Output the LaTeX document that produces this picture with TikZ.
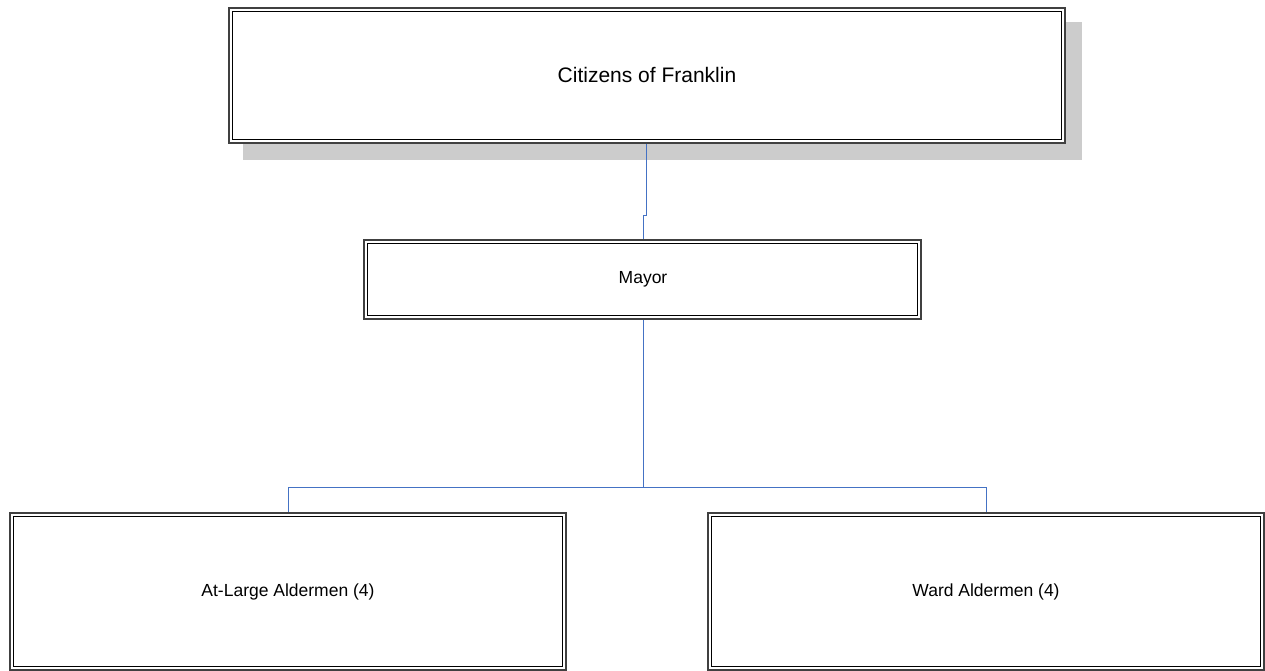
\documentclass[tikz,border=0pt]{standalone}
\usepackage{fontspec}
\setmainfont{Liberation Sans}
\begin{document}
\begin{tikzpicture}[x=1pt,y=-1pt,
  conn/.style={draw={rgb,255:red,68;green,114;blue,196},line width=1pt},
  outerline/.style={draw=black!75,line width=1.6pt},
  innerline/.style={draw=black,line width=1pt},
  small/.style={font=\fontsize{17.5}{20}\selectfont}]
\useasboundingbox (0,0) rectangle (1265,671);
\fill[black!20] (243,22) rectangle (1082,160);
% top box
\fill[white] (229,8) rectangle (1065,143);
\draw[outerline] (229,8) rectangle (1065,143);
\draw[innerline] (232.5,11.5) rectangle (1061.5,139.5);
\node[font=\fontsize{21}{24}\selectfont] (cit) at (647,75) {Citizens of Franklin};
% mayor
\draw[outerline] (364,240) rectangle (921,319);
\draw[innerline] (367.5,243.5) rectangle (917.5,315.5);
\node[small] (may) at (643,279) {Mayor};
% bottom boxes
\draw[outerline] (10,513) rectangle (566,670);
\draw[innerline] (13.5,516.5) rectangle (562.5,666.5);
\node[small] (al) at (288,592) {At-Large Aldermen (4)};
\draw[outerline] (708,513) rectangle (1264,670);
\draw[innerline] (711.5,516.5) rectangle (1260.5,666.5);
\node[small] (wa) at (986,592) {Ward Aldermen (4)};
% connectors
\coordinate (c1) at (646.5,144);
\coordinate (c2) at (643.5,239);
\coordinate (c3) at (643.5,320);
\coordinate (l) at (288.5,512);
\coordinate (r) at (986.5,512);
\draw[conn] (c1) -- (646.5,215.5) -- (643.5,215.5) -- (c2);
\draw[conn] (c3) -- (643.5,487.5);
\draw[conn] (l) -- (288.5,487.5) -- (986.5,487.5) -- (r);
\end{tikzpicture}
\end{document}
